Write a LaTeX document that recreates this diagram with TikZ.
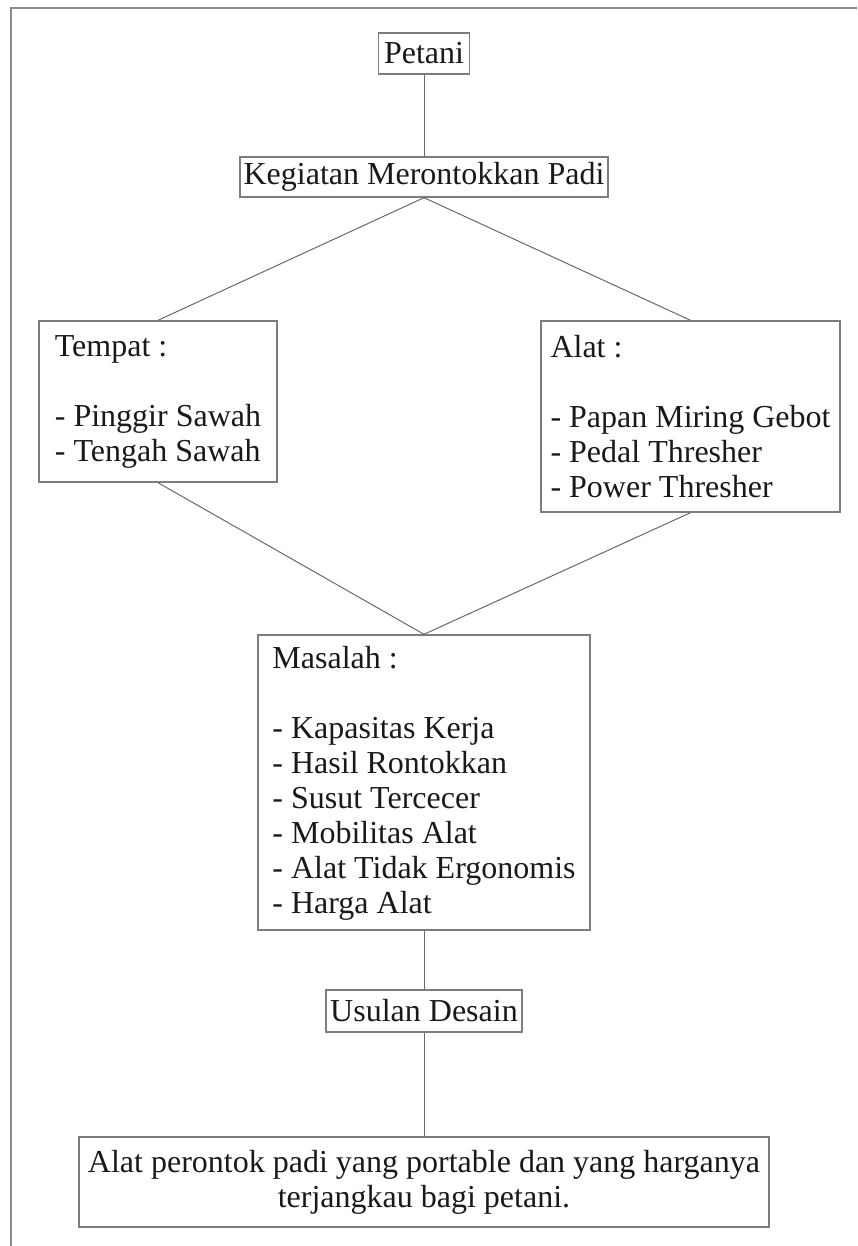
\documentclass[tikz,border=0pt]{standalone}
\usepackage{fontspec}
\setmainfont{Liberation Serif}
\definecolor{boxgray}{RGB}{125,125,125}
\definecolor{linegray}{RGB}{105,105,105}
\definecolor{framegray}{RGB}{140,140,140}
\begin{document}
\begin{tikzpicture}[x=0.5pt,y=-0.5pt,
  box/.style={draw=boxgray, line width=0.7pt, inner sep=0pt, text=black!90,
    font=\fontsize{16}{17.5}\selectfont},
  listbox/.style={box, align=left},
  conn/.style={draw=linegray, line width=0.5pt}]
\useasboundingbox (0,0) rectangle (857,1246);
\draw[framegray, line width=1.1pt] (857,8) -- (11,8) -- (11,1246);

\node[box, minimum width=45.5pt, minimum height=20.5pt] (petani) at (424,53.5) {Petani};
\node[box, minimum width=184pt, minimum height=20pt] (kegiatan) at (424,177) {Kegiatan Merontokkan Padi};
\node[listbox, minimum width=119pt, minimum height=80.5pt] (tempat) at (158,401.5)
  {Tempat :\\[17.5pt]- Pinggir Sawah\\- Tengah Sawah};
\node[listbox, minimum width=149.5pt, minimum height=95.5pt] (alat) at (690.5,416.5)
  {Alat :\\[17.5pt]- Papan Miring Gebot\\- Pedal Thresher\\- Power Thresher};
\node[listbox, minimum width=166pt, minimum height=147.5pt, text depth=3pt] (masalah) at (424,782.5)
  {Masalah :\\[17.5pt]- Kapasitas Kerja\\- Hasil Rontokkan\\- Susut Tercecer\\- Mobilitas Alat\\- Alat Tidak Ergonomis\\- Harga Alat};
\node[box, minimum width=98pt, minimum height=21pt] (usulan) at (424,1011) {Usulan Desain};
\node[box, align=center, minimum width=345pt, minimum height=45pt] (hasil) at (424,1182)
  {Alat perontok padi yang portable dan yang harganya\\terjangkau bagi petani.};

\draw[conn] (petani.south) -- (kegiatan.north);
\draw[conn] (kegiatan.south) -- (tempat.north);
\draw[conn] (kegiatan.south) -- (alat.north);
\draw[conn] (tempat.south) -- (masalah.north);
\draw[conn] (alat.south) -- (masalah.north);
\draw[conn] (masalah.south) -- (usulan.north);
\draw[conn] (usulan.south) -- (hasil.north);
\end{tikzpicture}
\end{document}
